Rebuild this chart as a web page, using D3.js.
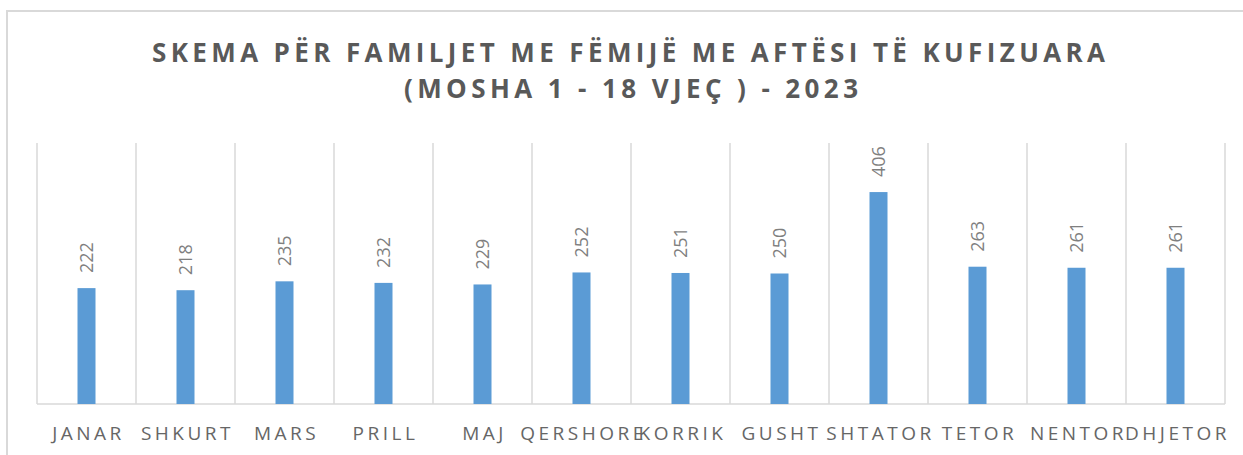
<!DOCTYPE html>
<html><head><meta charset="utf-8">
<script src="https://cdn.jsdelivr.net/npm/d3@7"></script>
<style>body{margin:0;background:#fff;}svg{display:block;}</style>
</head><body>
<svg id="c" width="1243" height="455"></svg>
<script>
const titleLines = ["SKEMA PËR FAMILJET ME FËMIJË ME AFTËSI TË KUFIZUARA", "(MOSHA 1 - 18 VJEÇ ) - 2023"];
const months = ["JANAR","SHKURT","MARS","PRILL","MAJ","QERSHORE","KORRIK","GUSHT","SHTATOR","TETOR","NENTOR","DHJETOR"];
const values = [222,218,235,232,229,252,251,250,406,263,261,261];
const yDomain = [0, 500];

const svg = d3.select("#c");
const W = 1243, H = 455;
const plot = {left: 37, right: 1225, top: 143, bottom: 404};

// chart border
svg.append("rect").attr("x", 7).attr("y", 11).attr("width", W).attr("height", H)
  .attr("fill", "none").attr("stroke", "#d9d9d9").attr("stroke-width", 2);

const x = d3.scaleBand().domain(months).range([plot.left, plot.right]).paddingInner(0).paddingOuter(0);
const y = d3.scaleLinear().domain(yDomain).range([plot.bottom, plot.top]);

// title
const tl = [{t: titleLines[0], y: 62, len: 953, cx: 628.5}, {t: titleLines[1], y: 98, len: 454, cx: 631}];
svg.selectAll("text.title").data(tl).join("text").attr("class","title")
  .attr("x", d => d.cx).attr("y", d => d.y).attr("text-anchor","middle")
  .attr("textLength", d => d.len).attr("lengthAdjust","spacing")
  .style("font-family","'Open Sans', sans-serif").style("font-weight","bold").style("font-size","26px")
  .attr("fill","#595959").text(d => d.t);

// vertical gridlines at category boundaries
const bounds = months.map(m => x(m)).concat([x(months[months.length-1]) + x.bandwidth()]);
svg.append("g").selectAll("line").data(bounds).join("line")
  .attr("x1", d => d).attr("x2", d => d).attr("y1", plot.top).attr("y2", plot.bottom)
  .attr("stroke", "#d9d9d9").attr("stroke-width", 1.5);

// x axis line
svg.append("line").attr("x1", plot.left).attr("x2", plot.right).attr("y1", plot.bottom).attr("y2", plot.bottom)
  .attr("stroke", "#d9d9d9").attr("stroke-width", 1.5);

// bars
const bw = 18;
svg.append("g").selectAll("rect").data(values).join("rect")
  .attr("x", (d,i) => x(months[i]) + x.bandwidth()/2 - bw/2)
  .attr("width", bw)
  .attr("y", d => y(d))
  .attr("height", d => y(0) - y(d))
  .attr("fill", "#5b9bd5");

// value labels rotated
svg.append("g").selectAll("text").data(values).join("text")
  .attr("transform", (d,i) => `translate(${x(months[i]) + x.bandwidth()/2},${y(d) - 15}) rotate(-90)`)
  .attr("dy", "0.36em")
  .style("font-family","'Open Sans', sans-serif").style("font-size","18px")
  .attr("fill","#7f7f7f").text(d => d);

// category labels
svg.append("g").selectAll("text").data(months).join("text")
  .attr("x", d => x(d) + x.bandwidth()/2 + 2).attr("y", 440)
  .attr("text-anchor","middle")
  .style("font-family","'Open Sans', sans-serif").style("font-size","19px").style("letter-spacing","3.5px")
  .attr("fill","#666666").text(d => d);
</script>
</body></html>
